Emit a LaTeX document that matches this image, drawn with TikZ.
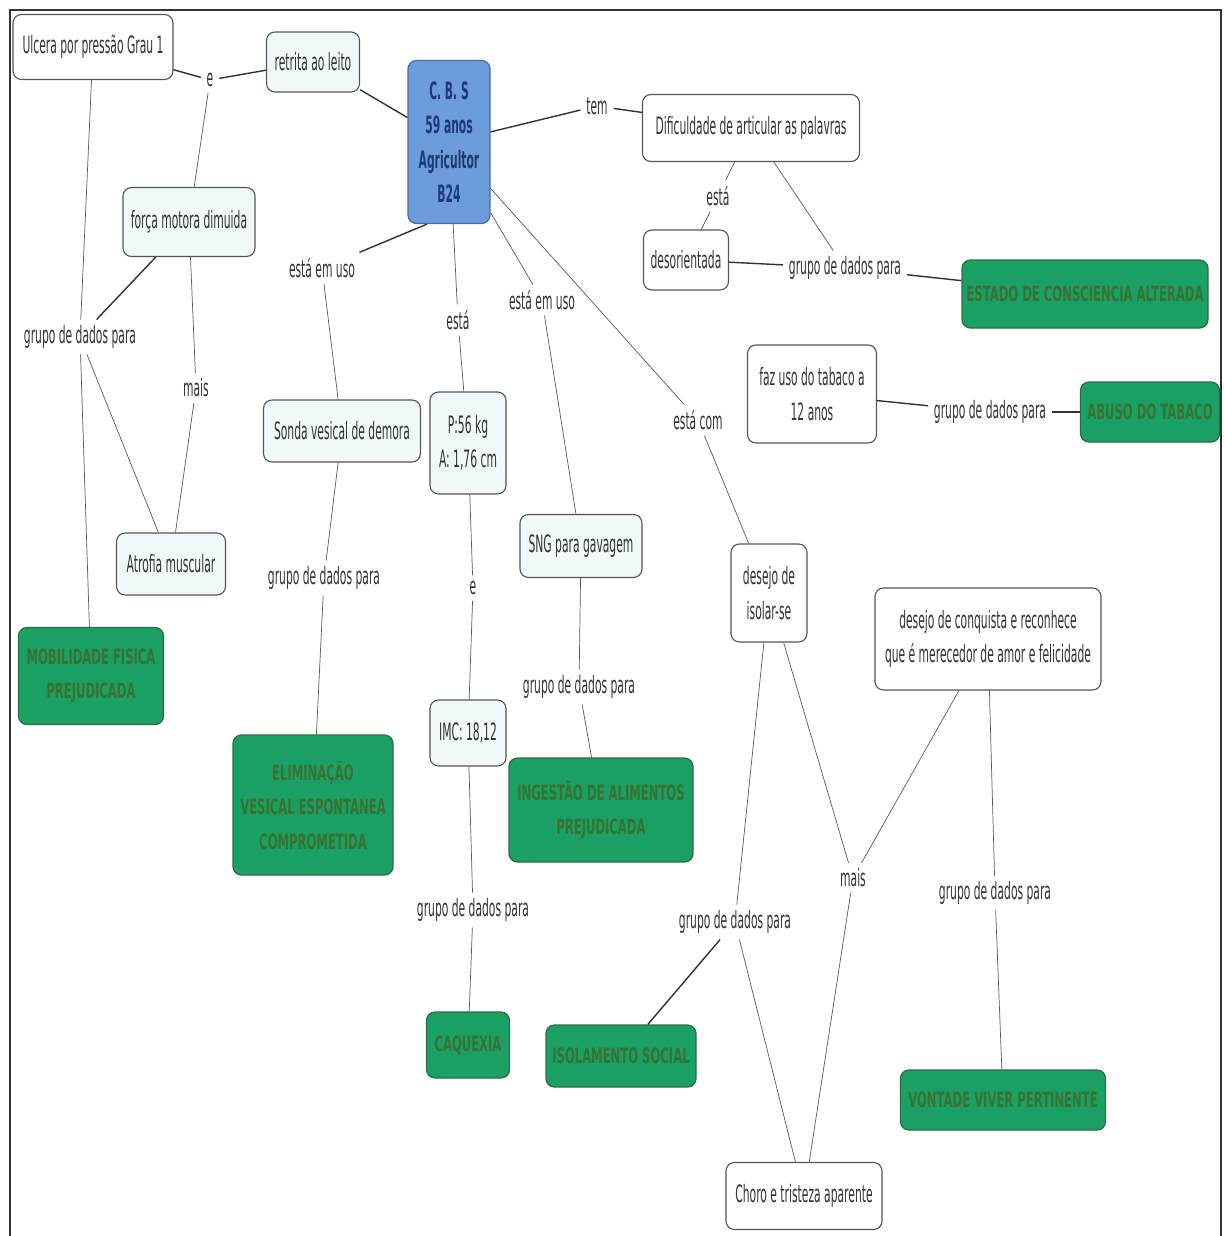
\documentclass[tikz,border=0pt]{standalone}
\usepackage{fontspec}
\setmainfont[FakeStretch=0.45]{DejaVu Sans}
\newfontfamily\capsfont[FakeStretch=0.55]{DejaVu Sans}

\definecolor{boxline}{HTML}{555555}
\definecolor{lightfill}{HTML}{F1F8FA}
\definecolor{inktext}{HTML}{333333}
\definecolor{diaggreen}{HTML}{1AA064}
\definecolor{diagedge}{HTML}{2F6B47}
\definecolor{diagtext}{HTML}{3A7232}
\definecolor{patfill}{HTML}{6C9CDB}
\definecolor{patedge}{HTML}{4A6EA8}
\definecolor{pattext}{HTML}{1E3A78}

\begin{document}
\begin{tikzpicture}[x=0.025cm,y=-0.025cm,
  sz/.style 2 args={minimum width=#1*0.025cm,minimum height=#2*0.025cm},
  concept/.style={draw=boxline,line width=0.8pt,rounded corners=6pt,fill=white,
    text=inktext,align=center,inner sep=0pt,font=\fontsize{17}{24.5}\selectfont},
  conceptb/.style={concept,fill=lightfill},
  diag/.style={draw=diagedge,line width=0.9pt,rounded corners=6pt,fill=diaggreen,
    text=diagtext,align=center,inner sep=0pt,font=\capsfont\bfseries\fontsize{15}{24.5}\selectfont},
  patient/.style={draw=patedge,line width=0.9pt,rounded corners=6pt,fill=patfill,
    text=pattext,align=center,inner sep=0pt,font=\bfseries\fontsize{17}{24.5}\selectfont},
  lbl/.style={text=inktext,inner sep=4pt,font=\fontsize{17}{24.5}\selectfont},
  link/.style={draw=black!65,line width=0.5pt},
  linkb/.style={draw=black!80,line width=1pt}]
\useasboundingbox (0,0) rectangle (1224,1236);
% frame
\draw[black!80,line width=1.4pt] (10,1236) -- (10,10) -- (1221,10) -- (1221,1236);
% the patient
\node[patient,sz={82}{163}] (cbs) at (449,142) {C. B. S\\59 anos\\Agricultor\\B24};
% left side
\node[concept,sz={160}{65}] (ulcera) at (93,47) {Ulcera por pressão Grau 1};
\node[conceptb,sz={93}{60}] (retrita) at (313,62) {retrita ao leito};
\node[conceptb,sz={132}{69}] (forca) at (189,222) {força motora dimuida};
\node[conceptb,sz={109}{62}] (atrofia) at (171,564) {Atrofia muscular};
\node[diag,sz={145}{97}] (mobilidade) at (91,676) {MOBILIDADE FISICA\\PREJUDICADA};
\node[lbl] (e1) at (210,80) {e};
\node[lbl] (grupo1) at (80,337) {grupo de dados para};
\node[lbl] (mais1) at (196,388) {mais};
% middle
\node[conceptb,sz={157}{62}] (sonda) at (342,431) {Sonda vesical de demora};
\node[conceptb,sz={76}{102}] (peso) at (468,443) {P:56 kg\\A: 1,76 cm};
\node[conceptb,sz={122}{63}] (sng) at (581,546) {SNG para gavagem};
\node[conceptb,sz={76}{66}] (imc) at (468,733) {IMC: 18,12};
\node[diag,sz={160}{140}] (eliminacao) at (313,805) {ELIMINAÇÃO\\VESICAL ESPONTANEA\\COMPROMETIDA};
\node[diag,sz={184}{104}] (ingestao) at (601,810) {INGESTÃO DE ALIMENTOS\\PREJUDICADA};
\node[diag,sz={83}{66}] (caquexia) at (468,1045) {CAQUEXIA};
\node[lbl] (emuso1) at (322,268) {está em uso};
\node[lbl] (esta1) at (458,320) {está};
\node[lbl] (emuso2) at (542,300) {está em uso};
\node[lbl] (grupo2) at (324,578) {grupo de dados para};
\node[lbl] (e2) at (473,588) {e};
\node[lbl] (grupo3) at (579,687) {grupo de dados para};
\node[lbl] (grupo4) at (473,910) {grupo de dados para};
% right side
\node[concept,sz={217}{67}] (dificuldade) at (751,128) {Dificuldade de articular as palavras};
\node[concept,sz={85}{60}] (desorientada) at (686,260) {desorientada};
\node[diag,sz={246}{68}] (estado) at (1085,294) {ESTADO DE CONSCIENCIA ALTERADA};
\node[concept,sz={129}{98}] (tabaco) at (812,394) {faz uso do tabaco a\\12 anos};
\node[diag,sz={139}{60}] (abuso) at (1150,412) {ABUSO DO TABACO};
\node[concept,sz={76}{98}] (isolar) at (769,593) {desejo de\\isolar-se};
\node[concept,sz={226}{102}] (conquista) at (988,639) {desejo de conquista e reconhece\\que é merecedor de amor e felicidade};
\node[diag,sz={150}{62}] (isolamento) at (621,1056) {ISOLAMENTO SOCIAL};
\node[diag,sz={205}{60}] (vontade) at (1003,1100) {VONTADE VIVER PERTINENTE};
\node[concept,sz={156}{67}] (choro) at (804,1196) {Choro e tristeza aparente};
\node[lbl] (tem) at (597,106) {tem};
\node[lbl] (esta2) at (718,196) {está};
\node[lbl] (grupo5) at (845,268) {grupo de dados para};
\node[lbl] (grupo6) at (990,412) {grupo de dados para};
\node[lbl] (estacom) at (698,420) {está com};
\node[lbl] (mais2) at (853,878) {mais};
\node[lbl] (grupo7) at (735,922) {grupo de dados para};
\node[lbl] (grupo8) at (995,893) {grupo de dados para};
% links, left
\draw[linkb] (ulcera) -- (e1);
\draw[linkb] (e1) -- (retrita);
\draw[link] (forca) -- (e1);
\draw[linkb] (retrita) -- (cbs);
\draw[link] (ulcera) -- (grupo1);
\draw[linkb] (forca) -- (grupo1);
\draw[link] (grupo1) -- (atrofia);
\draw[link] (grupo1) -- (mobilidade);
\draw[link] (forca) -- (mais1);
\draw[link] (mais1) -- (atrofia);
% links, middle
\draw[linkb] (cbs.-105) -- (emuso1);
\draw[link] (emuso1) -- (sonda);
\draw[link] (cbs) -- (esta1);
\draw[link] (esta1) -- (peso);
\draw[link] (cbs) -- (emuso2);
\draw[link] (emuso2) -- (sng);
\draw[link] (sonda) -- (grupo2);
\draw[link] (grupo2) -- (eliminacao);
\draw[link] (peso) -- (e2);
\draw[link] (e2) -- (imc);
\draw[link] (sng) -- (grupo3);
\draw[link] (grupo3) -- (ingestao);
\draw[link] (imc) -- (grupo4);
\draw[link] (grupo4) -- (caquexia);
% links, right
\draw[linkb] (cbs) -- (tem);
\draw[linkb] (tem) -- (dificuldade);
\draw[link] (dificuldade) -- (esta2);
\draw[link] (esta2) -- (desorientada);
\draw[link] (dificuldade) -- (grupo5);
\draw[linkb] (desorientada) -- (grupo5);
\draw[linkb] (grupo5) -- (estado);
\draw[linkb] (tabaco) -- (grupo6);
\draw[linkb] (grupo6) -- (abuso);
\draw[link] (cbs) -- (estacom);
\draw[link] (estacom) -- (isolar);
\draw[link] (isolar) -- (grupo7);
\draw[linkb] (grupo7) -- (isolamento);
\draw[link] (grupo7) -- (choro);
\draw[link] (isolar) -- (mais2);
\draw[link] (conquista) -- (mais2);
\draw[link] (mais2) -- (choro);
\draw[link] (conquista) -- (grupo8);
\draw[link] (grupo8) -- (vontade);
\end{tikzpicture}
\end{document}
